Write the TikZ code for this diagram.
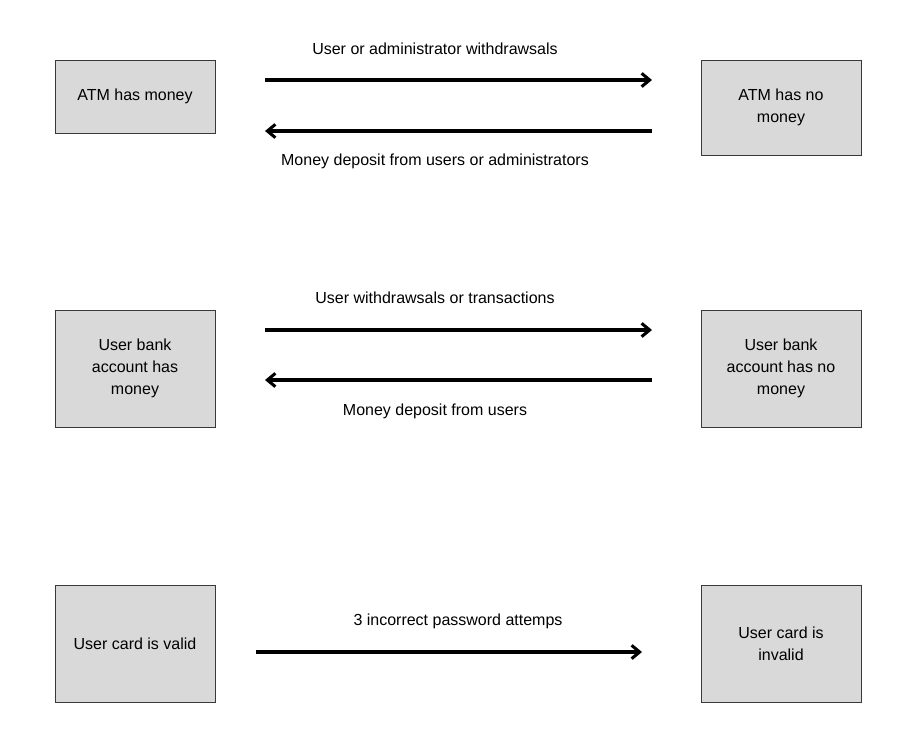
\documentclass[tikz,border=0pt]{standalone}
\usepackage{fontspec}
\setmainfont{Liberation Sans}
\usepackage{xcolor}
\usepackage{tikz}
\usetikzlibrary{arrows.meta}
\usetikzlibrary{positioning}
\definecolor{boxfill}{HTML}{D9D9D9}
\definecolor{boxline}{HTML}{36393D}
\tikzset{
    state/.style={draw=boxline, fill=boxfill, line width=0.7pt, minimum width=120pt, align=center, font=\fontsize{12}{16.5}\selectfont, inner sep=0pt},
    trans/.style={line width=2.3pt, -{Straight Barb[length=6pt, width=10pt, line width=2.3pt]}},
    lbl/.style={font=\fontsize{12}{14}\selectfont, inner sep=0pt}
}
\begin{document}
\begin{tikzpicture}[x=0.75pt, y=-0.75pt]
        \useasboundingbox (0,0) rectangle (903,749);

        % states
        \node[state, minimum height=54.75pt] (money) at (135,96.5) {ATM has money};
        \node[state, minimum height=71.25pt] (nomoney) at (781,107.5) {ATM has no\\money};
        \node[state, minimum height=87.75pt] (acct) at (135,368.5) {User bank\\account has\\money};
        \node[state, minimum height=87.75pt] (noacct) at (781,368.5) {User bank\\account has no\\money};
        \node[state, minimum height=87.75pt] (valid) at (135,643.5) {User card is valid};
        \node[state, minimum height=87.75pt] (invalid) at (781,643.5) {User card is\\invalid};

        % arrow ends
        \coordinate (w1) at (265,80);  \coordinate (e1) at (652,80);
        \coordinate (w2) at (265,131); \coordinate (e2) at (652,131);
        \coordinate (w3) at (265,330); \coordinate (e3) at (652,330);
        \coordinate (w4) at (265,380); \coordinate (e4) at (652,380);
        \coordinate (w5) at (256,652); \coordinate (e5) at (642,652);

        \draw[trans] (w1) -- (e1);
        \draw[trans] (e2) -- (w2);
        \draw[trans] (w3) -- (e3);
        \draw[trans] (e4) -- (w4);
        \draw[trans] (w5) -- (e5);

        % labels
        \node[lbl] (withdraw) at (435,49) {User or administrator withdrawsals};
        \node[lbl] (deposit) at (435,161) {Money deposit from users or administrators};
        \node[lbl] (usewithdraw) at (435,298) {User withdrawsals or transactions};
        \node[lbl] (usedeposit) at (435,411) {Money deposit from users};
        \node[lbl] (attempts) at (458,621) {3 incorrect password attemps};
    \end{tikzpicture}
\end{document}
